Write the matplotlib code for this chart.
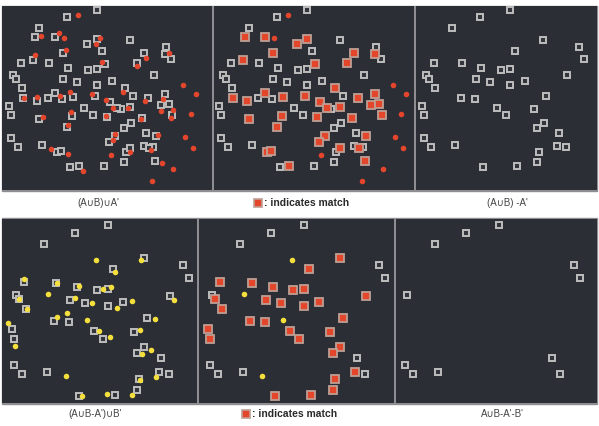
#!/usr/bin/env python3
"""
Set-difference matching figure: six dark scatter panels with captions.
Point coordinates are in a 0-600 'panel unit' space (3 units per pixel).
"""

import numpy as np
import matplotlib
matplotlib.use("Agg")
import matplotlib.pyplot as plt

# ---- top row: squares (A u B) and red dots (A') ----
top_unmatched_sq = [
    (292, 30), (200, 52), (116, 83), (390, 120), (497, 140), (513, 177), (305, 154),
    (62, 189), (148, 190), (205, 203), (263, 210), (292, 207), (463, 226), (38, 224),
    (48, 236), (188, 237), (230, 246), (292, 255), (335, 242), (66, 263), (398, 287),
    (144, 294), (185, 298), (27, 318), (34, 344), (252, 324), (278, 344), (362, 328),
    (392, 368), (371, 385), (437, 398), (34, 415), (54, 442), (125, 434), (432, 437),
    (460, 440), (379, 456), (372, 487), (211, 501), (311, 499),
]
top_matched_sq = [
    (104, 112), (166, 110), (290, 118), (262, 131), (190, 158), (98, 180), (432, 160),
    (496, 162), (314, 192), (412, 190), (374, 264), (166, 280), (68, 293), (110, 304),
    (218, 292), (286, 289), (330, 305), (444, 293), (494, 282), (484, 316), (508, 313),
    (350, 325), (390, 320), (516, 346), (118, 358), (216, 348), (320, 350), (426, 353),
    (202, 382), (346, 409), (468, 408), (328, 427), (390, 443), (448, 445), (170, 457),
    (182, 452), (236, 497), (464, 482),
]
top_matched_dots = [
    (123, 107), (178, 98), (299, 113), (289, 133), (199, 149), (105, 164), (437, 173),
    (507, 158), (307, 187), (412, 198), (369, 276), (180, 287), (72, 295), (111, 292),
    (209, 275), (275, 282), (318, 299), (436, 303), (488, 297), (483, 333), (518, 330),
    (339, 325), (384, 323), (513, 353), (130, 351), (213, 337), (317, 347), (423, 357),
    (205, 375), (346, 402), (473, 404), (338, 420), (389, 455), (452, 449), (153, 446),
    (205, 461), (250, 512), (485, 488),
]
top_unmatched_dots = [
    (233, 45), (193, 115), (548, 256), (589, 282), (572, 343), (556, 411), (578, 444),
    (334, 466), (520, 507), (456, 543),
]

# ---- bottom row: squares (remaining) and yellow dots (B') ----
bot_unmatched_sq = [
    (324, 29), (224, 54), (131, 88), (548, 151), (566, 190), (47, 240), (42, 450),
    (65, 478), (142, 470), (484, 430), (508, 476),
]
bot_matched_sq = [
    (431, 128), (339, 163), (72, 202), (168, 204), (230, 216), (292, 225), (325, 222),
    (57, 253), (211, 255), (256, 265), (324, 274), (370, 260), (511, 242), (77, 282),
    (440, 309), (161, 317), (207, 320), (35, 343), (42, 372), (281, 349), (308, 372),
    (401, 352), (433, 397), (411, 415), (478, 471), (418, 491), (411, 526), (236, 543),
    (344, 541),
]
bot_matched_dots = [
    (422, 134), (344, 171), (73, 193), (172, 205), (237, 212), (308, 221), (332, 216),
    (57, 251), (224, 249), (275, 265), (350, 279), (397, 259), (523, 255), (82, 281),
    (466, 313), (170, 305), (200, 295), (24, 324), (45, 394), (298, 347), (330, 367),
    (419, 346), (452, 404), (426, 418), (469, 487), (420, 494), (395, 539), (247, 543),
    (320, 537),
]
bot_unmatched_dots = [(289, 136), (143, 238), (262, 314), (199, 484)]

top_captions = ["(A\u222aB)\u222aA'", ": indicates match", "(A\u222aB) -A'"]
bot_captions = ["(A\u222aB-A')\u222aB'", ": indicates match", "A\u222aB-A'-B'"]

BG = "#2c2e36"
SEP = "#8e8e92"
SQ_EDGE = "#bdbdbd"
RED = "#e4462c"
YELLOW = "#f5df3c"
MATCH_EDGE = "#bf9e94"

W, H = 599, 426


def add_panel(fig, box, xlim, ylim):
    x0, y0, x1, y1 = box
    ax = fig.add_axes([x0 / W, 1 - y1 / H, (x1 - x0) / W, (y1 - y0) / H])
    ax.set_facecolor(BG)
    ax.set_xlim(*xlim)
    ax.set_ylim(*ylim)
    ax.set_xticks([])
    ax.set_yticks([])
    for s in ax.spines.values():
        s.set_visible(False)
    return ax


def pixel_axes(fig, z):
    ax = fig.add_axes([0, 0, 1, 1])
    ax.set_xlim(0, W)
    ax.set_ylim(H, 0)
    ax.axis("off")
    ax.set_zorder(z)
    return ax


def squares(ax, pts):
    p = np.array(pts)
    ax.plot(p[:, 0], p[:, 1], ls="none", marker="s", ms=5.0, mew=1.4,
            mec=SQ_EDGE, mfc="#33353c", zorder=2)


def matched(ax, pts):
    p = np.array(pts)
    ax.plot(p[:, 0], p[:, 1], ls="none", marker="s", ms=5.2, mew=1.3,
            mec=MATCH_EDGE, mfc=RED, zorder=3)


def dots(ax, pts, color):
    p = np.array(pts)
    ax.plot(p[:, 0], p[:, 1], ls="none", marker="o", ms=4.0, mew=0,
            mfc=color, zorder=4)


fig = plt.figure(figsize=(W / 100, H / 100), dpi=100)
fig.patch.set_facecolor("white")

# grey backing behind each row, showing through as separators
back = pixel_axes(fig, -1)
back.add_patch(plt.Rectangle((2, 6), 595, 185, color=SEP))
back.add_patch(plt.Rectangle((2, 218), 595, 186, color=SEP))

# top row
ylim_top = (570, 18)
ax1 = add_panel(fig, (2, 6, 212, 190), (6, 636), ylim_top)
ax2 = add_panel(fig, (214, 6, 414, 190), (12, 612), ylim_top)
ax3 = add_panel(fig, (416, 6, 597, 190), (9, 552), ylim_top)

squares(ax1, top_unmatched_sq + top_matched_sq)
dots(ax1, top_matched_dots + top_unmatched_dots, RED)

squares(ax2, top_unmatched_sq)
matched(ax2, top_matched_sq)
dots(ax2, top_unmatched_dots, RED)

squares(ax3, top_unmatched_sq)

# bottom row
ylim_bot = (564, 12)
ax4 = add_panel(fig, (2, 219, 197, 403), (6, 591), ylim_bot)
ax5 = add_panel(fig, (199, 219, 394, 403), (9, 594), ylim_bot)
ax6 = add_panel(fig, (396, 219, 597, 403), (15, 618), ylim_bot)

squares(ax4, bot_unmatched_sq + bot_matched_sq)
dots(ax4, bot_matched_dots + bot_unmatched_dots, YELLOW)

squares(ax5, bot_unmatched_sq)
matched(ax5, bot_matched_sq)
dots(ax5, bot_unmatched_dots, YELLOW)

squares(ax6, bot_unmatched_sq)

# captions
front = pixel_axes(fig, 5)
cap_font = dict(fontsize=7, color="#444444", ha="center", va="center",
                family=["Liberation Sans", "DejaVu Sans"])
front.text(98, 203, top_captions[0], **cap_font)
front.text(507, 203, top_captions[2], **cap_font)
front.text(95, 414, bot_captions[0], **cap_font)
front.text(502, 414, bot_captions[2], **cap_font)

for cy, ix, cap in ((203, 258, top_captions[1]), (414, 246, bot_captions[1])):
    front.plot([ix], [cy], ls="none", marker="s", ms=5.5, mew=1.2,
               mec=MATCH_EDGE, mfc=RED)
    front.text(ix + 6, cy, cap, fontsize=7.5, fontweight="bold", color="#2a2a2a",
               ha="left", va="center", family=["Liberation Sans", "DejaVu Sans"])

fig.savefig("out.png", dpi=100, facecolor=fig.get_facecolor())
